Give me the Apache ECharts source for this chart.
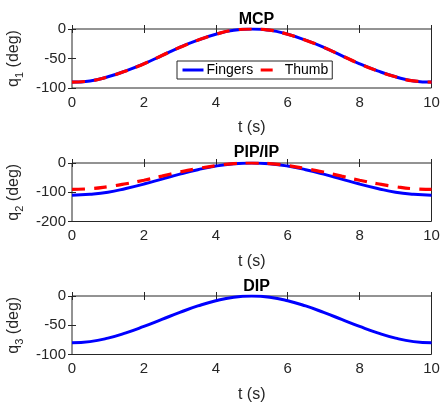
<!DOCTYPE html>
<html>
<head>
<meta charset="utf-8">
<script src="https://cdn.jsdelivr.net/npm/echarts@6/dist/echarts.min.js"></script>
<style>
  html, body { margin: 0; padding: 0; background: #fff; }
  #chart { width: 440px; height: 402px; }
</style>
</head>
<body>
<div id="chart"></div>
<script>
// Joint trajectories over a 10 s motion (angles in degrees)
const time = [0, 0.5, 1, 1.5, 2, 2.5, 3, 3.5, 4, 4.5, 5, 5.5, 6, 6.5, 7, 7.5, 8, 8.5, 9, 9.5, 10];

const mcpFingers = [-90, -88, -81, -71, -59, -45, -31, -19, -9, -2, 0, -2, -9, -19, -31, -45, -59, -71, -81, -88, -90];
const mcpThumb   = [-90, -88, -81, -71, -59, -45, -31, -19, -9, -2, 0, -2, -9, -19, -31, -45, -59, -71, -81, -88, -90];
const pipFingers = [-110, -107, -100, -87, -72, -55, -38, -23, -10.5, -2.7, 0, -2.7, -10.5, -23, -38, -55, -72, -87, -100, -107, -110];
const pipThumb   = [-90, -88, -81, -71, -59, -45, -31, -19, -9, -2, 0, -2, -9, -19, -31, -45, -59, -71, -81, -88, -90];
const dipFingers = [-80, -78, -72, -63, -52, -40, -28, -17, -8, -2, 0, -2, -8, -17, -28, -40, -52, -63, -72, -78, -80];

const panelTitles = ['MCP', 'PIP/IP', 'DIP'];
const yTicks = [[-100, -50, 0], [-200, -100, 0], [-100, -50, 0]];
const xTicks = [0, 2, 4, 6, 8, 10];

const FONT = 'Liberation Sans, Arial, Helvetica, sans-serif';
const INK = '#262626';

const pairs = (ys) => time.map((t, i) => [t, ys[i]]);

const grids = [
  { left: 72, right: 8.5, top: 29, height: 59 },
  { left: 72, right: 8.5, top: 163, height: 58.5 },
  { left: 72, right: 8.5, top: 296, height: 58.5 }
].map(g => Object.assign(g, {
  show: true, borderColor: INK, borderWidth: 1, backgroundColor: '#fff',
  containLabel: false, outerBoundsMode: 'none'
}));

const xAxes = [];
const yAxes = [];
grids.forEach((g, i) => {
  const yt = yTicks[i];
  const yInt = yt[1] - yt[0];
  // bottom axis with labels
  xAxes.push({
    type: 'value', gridIndex: i, min: xTicks[0], max: xTicks[xTicks.length - 1], interval: 2,
    position: 'bottom',
    name: 't (s)', nameLocation: 'middle', nameGap: 32,
    nameTextStyle: { fontFamily: FONT, fontSize: 16, color: INK },
    axisLine: { show: false },
    axisTick: { show: true, inside: true, length: 4, lineStyle: { color: INK } },
    axisLabel: { fontFamily: FONT, fontSize: 15, color: INK, margin: 7 },
    splitLine: { show: false }
  });
  // top mirror axis: ticks only
  xAxes.push({
    type: 'value', gridIndex: i, min: xTicks[0], max: xTicks[xTicks.length - 1], interval: 2,
    position: 'top',
    axisLine: { show: false },
    axisTick: { show: true, inside: true, length: 4, lineStyle: { color: INK } },
    axisLabel: { show: false },
    splitLine: { show: false }
  });
  yAxes.push({
    type: 'value', gridIndex: i, min: yt[0], max: yt[yt.length - 1], interval: yInt,
    position: 'left',
    name: '{a|q}{s|' + (i + 1) + '}{a| (deg)}',
    nameLocation: 'middle', nameGap: 46,
    nameTextStyle: {
      fontFamily: FONT, fontSize: 16, color: INK,
      rich: {
        a: { fontFamily: FONT, fontSize: 16, color: INK, lineHeight: 22, verticalAlign: 'middle' },
        s: { fontFamily: FONT, fontSize: 11, color: INK, lineHeight: 22, verticalAlign: 'bottom' }
      }
    },
    axisLine: { show: false },
    axisTick: { show: true, inside: true, length: 4, lineStyle: { color: INK } },
    axisLabel: { fontFamily: FONT, fontSize: 15, color: INK, margin: 6 },
    splitLine: { show: false }
  });
  yAxes.push({
    type: 'value', gridIndex: i, min: yt[0], max: yt[yt.length - 1], interval: yInt,
    position: 'right',
    axisLine: { show: false },
    axisTick: { show: true, inside: true, length: 4, lineStyle: { color: INK } },
    axisLabel: { show: false },
    splitLine: { show: false }
  });
});

const fingerStyle = { color: '#0000FF', width: 3, type: 'solid' };
const thumbStyle = { color: '#FF0000', width: 3.2, type: [13, 9] };

const mkSeries = (name, ys, panel, style, z) => ({
  name, type: 'line', data: pairs(ys), smooth: true, symbol: 'none', showSymbol: false,
  xAxisIndex: panel * 2, yAxisIndex: panel * 2,
  lineStyle: style, itemStyle: { color: style.color }, z,
  silent: true, animation: false
});

const option = {
  animation: false,
  backgroundColor: '#fff',
  title: panelTitles.map((t, i) => ({
    text: t, left: 251.5, textAlign: 'center', top: [7, 140, 274][i],
    textStyle: { fontFamily: FONT, fontSize: 16, fontWeight: 'bold', color: '#000' }
  })),
  legend: {
    data: [
      { name: 'Fingers' },
      { name: 'Thumb', lineStyle: { type: [12, 12] } }
    ],
    left: 177, top: 61,
    padding: [2, 4, 2, 4],
    itemGap: 6, itemWidth: 21, itemHeight: 10,
    itemStyle: { opacity: 0 },
    lineStyle: { width: 3 },
    backgroundColor: '#fff', borderColor: INK, borderWidth: 1,
    textStyle: { fontFamily: FONT, fontSize: 14, color: '#000', padding: [0, 0, 0, -2] }
  },
  grid: grids,
  xAxis: xAxes,
  yAxis: yAxes,
  series: [
    mkSeries('Fingers', mcpFingers, 0, fingerStyle, 2),
    mkSeries('Thumb', mcpThumb, 0, thumbStyle, 3),
    mkSeries('Fingers', pipFingers, 1, fingerStyle, 2),
    mkSeries('Thumb', pipThumb, 1, thumbStyle, 3),
    mkSeries('Fingers', dipFingers, 2, fingerStyle, 2)
  ]
};

const chart = echarts.init(document.getElementById('chart'), null, { renderer: 'canvas' });
chart.setOption(option);
</script>
</body>
</html>
